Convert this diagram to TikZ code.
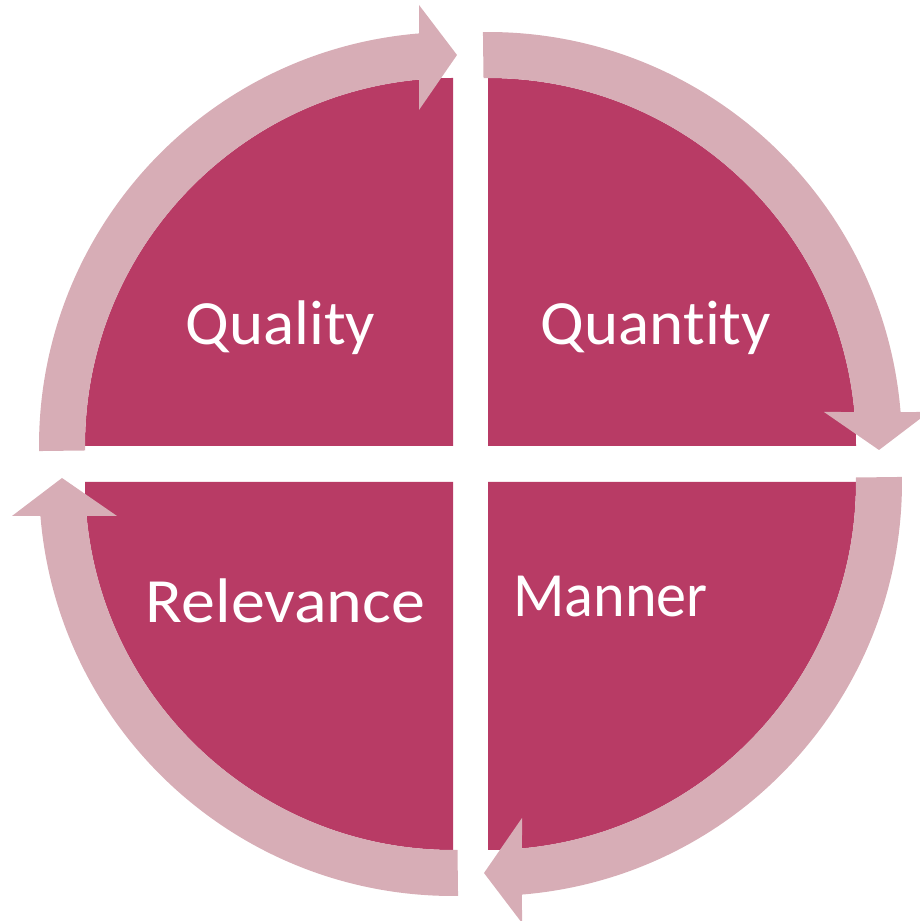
\documentclass[tikz,border=0pt]{standalone}
\usepackage{graphicx}
\usepackage{fontspec}
\setmainfont{Carlito}[Ligatures=NoCommon]
\definecolor{sectorcol}{RGB}{184,59,101}
\definecolor{arrowcol}{RGB}{215,173,182}
\newcommand\myringarrow{%
  \fill[ringarrow] (180.7:414) arc[start angle=180.7,end angle=94.71,radius=414]
    -- (-34,441) -- (4,391) -- (-34,336) -- (95.30:368)
    arc[start angle=95.30,end angle=180.7,radius=368] -- cycle;}
\begin{document}
\begin{tikzpicture}[x=1pt,y=1pt,
  sector/.style={fill=sectorcol},
  ringarrow/.style={fill=arrowcol},
  txtlabel/.style={text=white,anchor=base,inner sep=0pt,font=\fontsize{63}{63}\selectfont}]
\useasboundingbox (0,0) rectangle (920,921);
% quadrant centres
\coordinate (ctl) at (453,475);
\coordinate (ctr) at (488,475);
\coordinate (cbr) at (488,439);
\coordinate (cbl) at (453,439);
% sectors
\fill[sector] (ctl) -- ++(-368,0) arc[start angle=180,end angle=90,radius=368] -- cycle;
\fill[sector] (ctr) -- ++(0,368) arc[start angle=90,end angle=0,radius=368] -- cycle;
\fill[sector] (cbr) -- ++(368,0) arc[start angle=0,end angle=-90,radius=368] -- cycle;
\fill[sector] (cbl) -- ++(0,-368) arc[start angle=270,end angle=180,radius=368] -- cycle;
% arrows
\begin{scope}[shift={(453,475)}] \myringarrow \end{scope}
\begin{scope}[shift={(488,475)},rotate=-90] \myringarrow \end{scope}
\begin{scope}[shift={(488,439)},rotate=-180] \myringarrow \end{scope}
\begin{scope}[shift={(453,439)},rotate=90] \myringarrow \end{scope}
% labels
\node[txtlabel] (quality) at (280.5,576) {\scalebox{1.03}[1]{Quality}};
\node[txtlabel] (quantity) at (656,576) {\scalebox{1.03}[1]{Quantity}};
\node[txtlabel] (relevance) at (285.5,298) {\scalebox{1.08}[1]{Relevance}};
\node[txtlabel] (manner) at (610.5,304) {\scalebox{0.955}[1]{Manner}};
\end{tikzpicture}
\end{document}
